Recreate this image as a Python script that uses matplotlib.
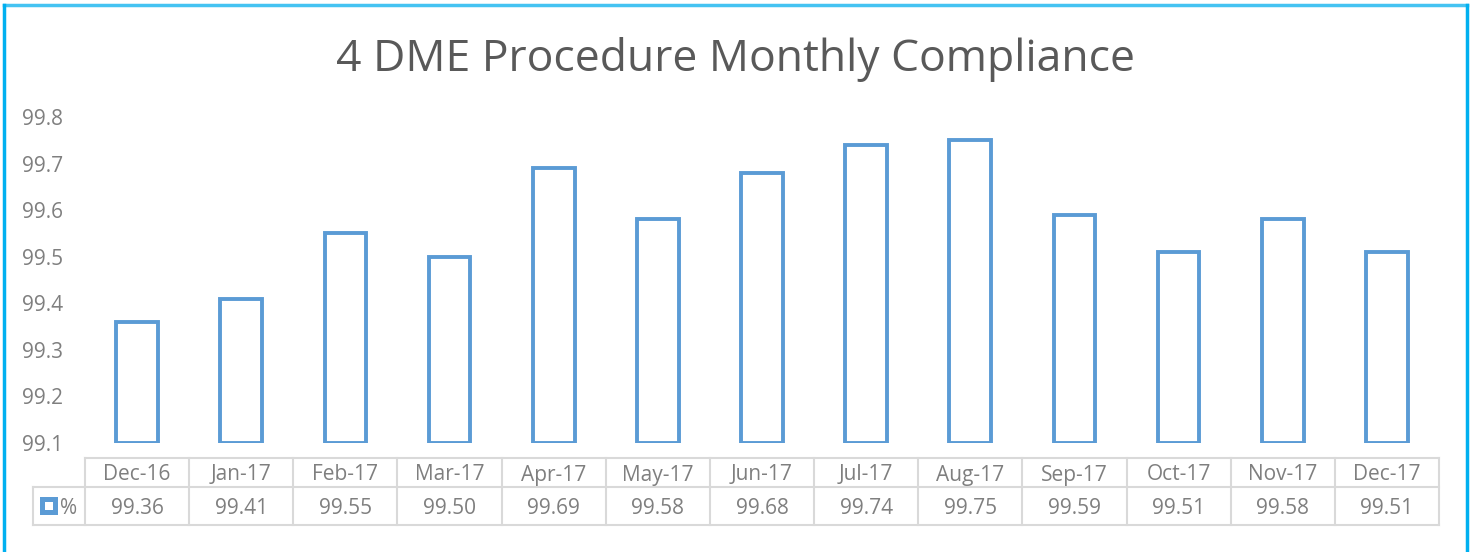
import matplotlib.pyplot as plt
from matplotlib.patches import Rectangle
from matplotlib.lines import Line2D

months = ['Dec-16', 'Jan-17', 'Feb-17', 'Mar-17', 'Apr-17', 'May-17', 'Jun-17',
          'Jul-17', 'Aug-17', 'Sep-17', 'Oct-17', 'Nov-17', 'Dec-17']
compliance = [99.36, 99.41, 99.55, 99.50, 99.69, 99.58, 99.68,
              99.74, 99.75, 99.59, 99.51, 99.58, 99.51]
yticks = [99.1, 99.2, 99.3, 99.4, 99.5, 99.6, 99.7, 99.8]
series_name = '%'

W, H = 1472, 552
blue = '#5B9BD5'
grey_text = '#7F7F7F'
grid_col = '#D9D9D9'
plt.rcParams['font.family'] = ['Open Sans', 'DejaVu Sans']

fig = plt.figure(figsize=(W / 100, H / 100), dpi=100)
fig.patch.set_facecolor('white')

# plot area in pixels
x0, x1, ytop, ybot = 85, 1439, 117, 443
ax = fig.add_axes([x0 / W, 1 - ybot / H, (x1 - x0) / W, (ybot - ytop) / H])

base = yticks[0]
xs = list(range(len(months)))
ax.bar(xs, [v - base for v in compliance], bottom=base, width=0.4,
       facecolor='white', edgecolor=blue, linewidth=2.8)
ax.set_xlim(-0.5, len(months) - 0.5)
ax.set_ylim(yticks[0], yticks[-1])
ax.set_yticks(yticks)
ax.set_yticklabels([f'{t:.1f}' for t in yticks])
ax.tick_params(axis='y', length=0, labelsize=15, labelcolor=grey_text, pad=16)
ax.tick_params(axis='x', length=0, labelbottom=False)
for s in ax.spines.values():
    s.set_visible(False)

# data table under the plot
def yfrac(py):
    return (ybot - py) / (ybot - ytop)

tr = ax.get_xaxis_transform()
r0, r1, r2 = yfrac(458), yfrac(487), yfrac(525)
xl = -0.5 - 52 / ((x1 - x0) / len(months))
n = len(months)
kw = dict(color=grid_col, lw=1.5, transform=tr, clip_on=False)
ax.add_line(Line2D([-0.5, n - 0.5], [r0, r0], **kw))
ax.add_line(Line2D([xl, n - 0.5], [r1, r1], **kw))
ax.add_line(Line2D([xl, n - 0.5], [r2, r2], **kw))
ax.add_line(Line2D([xl, xl], [r1, r2], **kw))
for i in range(n + 1):
    ax.add_line(Line2D([i - 0.5, i - 0.5], [r0, r2], **kw))
for i, (m, v) in enumerate(zip(months, compliance)):
    ax.text(i, yfrac(475), m, transform=tr, ha='center', va='center',
            fontsize=15, color=grey_text, clip_on=False)
    ax.text(i, yfrac(509), f'{v:.2f}', transform=tr, ha='center', va='center',
            fontsize=15, color=grey_text, clip_on=False)

# legend key in the table
fig.add_artist(Rectangle((42 / W, 1 - 512 / H), 13 / W, 13 / H,
                         facecolor='white', edgecolor=blue, lw=3.6,
                         transform=fig.transFigure))
fig.text(60 / W, 1 - 509 / H, series_name, ha='left', va='center',
         fontsize=15, color=grey_text)

# title
fig.text(735 / W, 1 - 59 / H, '4 DME Procedure Monthly Compliance',
         ha='center', va='center', fontsize=32, color='#595959')

# chart frame
border = '#00B0F0'
fig.add_artist(Line2D([4 / W, 1467 / W], [1 - 5 / H, 1 - 5 / H], color='#45C3F2', lw=2.5))
fig.add_artist(Line2D([4 / W, 4 / W], [0, 1 - 5 / H], color=border, lw=2.5))
fig.add_artist(Line2D([1467 / W, 1467 / W], [0, 1 - 5 / H], color=border, lw=2.5))

fig.savefig('out.png', dpi=100)
